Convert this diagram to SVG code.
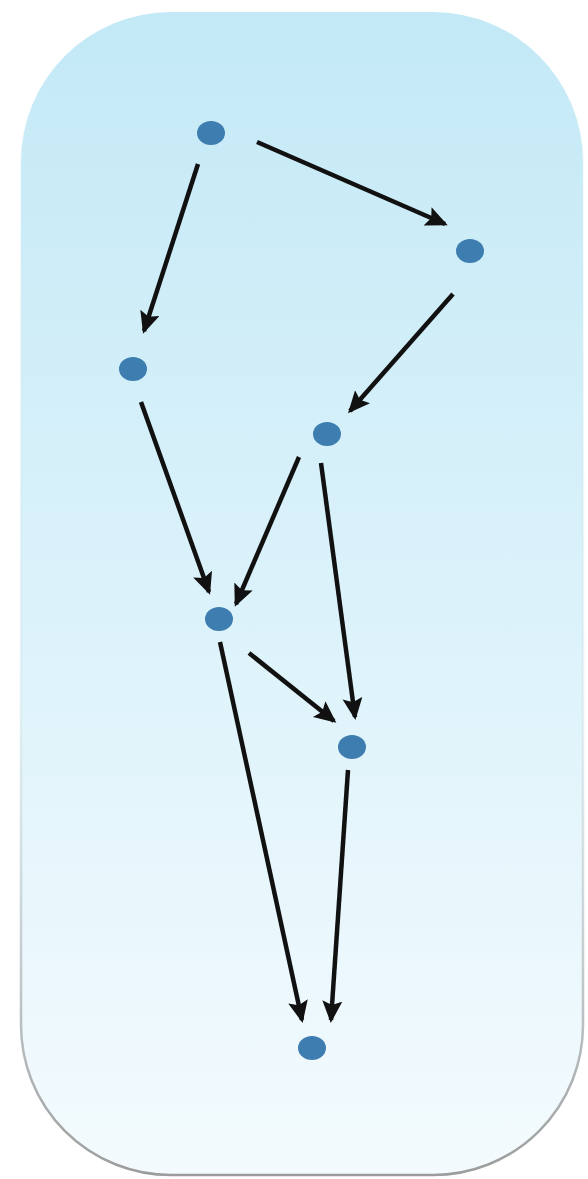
<svg xmlns="http://www.w3.org/2000/svg" width="588" height="1179" viewBox="0 0 588 1179">
  <defs>
    <linearGradient id="bg" x1="0" y1="0" x2="0" y2="1">
      <stop offset="0" stop-color="#c3e9f6"/>
      <stop offset="0.5" stop-color="#dbf2fa"/>
      <stop offset="1" stop-color="#f4fbfe"/>
    </linearGradient>
    <linearGradient id="edge" x1="0" y1="0" x2="0" y2="1">
      <stop offset="0" stop-color="#c3e9f6" stop-opacity="0"/>
      <stop offset="0.6" stop-color="#d0e4ea" stop-opacity="0.5"/>
      <stop offset="1" stop-color="#9c9c9c"/>
    </linearGradient>
    <marker id="ah" markerUnits="userSpaceOnUse" markerWidth="24" markerHeight="22" refX="19" refY="10" orient="auto">
      <path d="M0,0 L22,10 L0,20 L4,10 z" fill="#111"/>
    </marker>
    <style>
      .node { fill: #3d7db0; }
      .edge { stroke: #111; stroke-width: 4.5; fill: none; marker-end: url(#ah); }
    </style>
  </defs>
  <rect x="0" y="0" width="588" height="1179" fill="#ffffff"/>
  <rect x="21" y="12" width="562" height="1163" rx="150" ry="150" fill="url(#bg)" stroke="url(#edge)" stroke-width="2.5"/>
  <g id="connectors">
    <line class="edge" x1="198" y1="164" x2="144" y2="331"/>
    <line class="edge" x1="257" y1="142" x2="445" y2="224"/>
    <line class="edge" x1="453" y1="294" x2="350" y2="411"/>
    <line class="edge" x1="141" y1="402" x2="209" y2="592"/>
    <line class="edge" x1="299" y1="457" x2="236" y2="604"/>
    <line class="edge" x1="321" y1="463" x2="355" y2="717"/>
    <line class="edge" x1="249" y1="653" x2="334" y2="721"/>
    <line class="edge" x1="220" y1="642" x2="302" y2="1020"/>
    <line class="edge" x1="348" y1="770" x2="331" y2="1020"/>
  </g>
  <g id="n1"><ellipse class="node" cx="211" cy="133" rx="14" ry="12"/></g>
  <g id="n2"><ellipse class="node" cx="470" cy="251" rx="14" ry="12"/></g>
  <g id="n3"><ellipse class="node" cx="133" cy="369" rx="14" ry="12"/></g>
  <g id="n4"><ellipse class="node" cx="327" cy="434" rx="14" ry="12"/></g>
  <g id="n5"><ellipse class="node" cx="219" cy="619" rx="14" ry="12"/></g>
  <g id="n6"><ellipse class="node" cx="352" cy="747" rx="14" ry="12"/></g>
  <g id="n7"><ellipse class="node" cx="312" cy="1048" rx="14" ry="12"/></g>
</svg>
